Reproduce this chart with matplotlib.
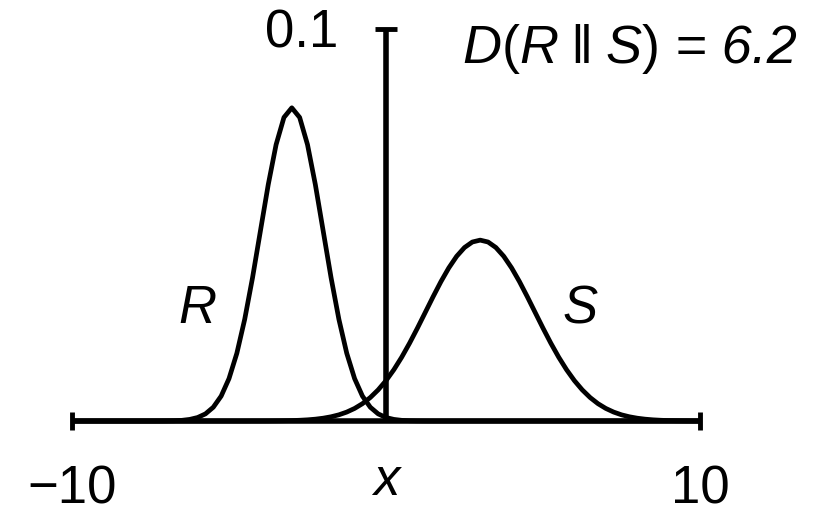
import matplotlib
matplotlib.use("Agg")
import matplotlib.pyplot as plt

plt.rcParams["font.family"] = ["Liberation Sans", "DejaVu Sans"]
plt.rcParams["mathtext.fontset"] = "custom"
plt.rcParams["mathtext.rm"] = "Liberation Sans"
plt.rcParams["mathtext.it"] = "Liberation Sans:italic"

x = [-10 + 0.25 * i for i in range(81)]

# density of R (peak near x = -3)
r_vals = [0.0] * 11 + [
    0.00001, 0.00003, 0.00007, 0.00017, 0.00041, 0.00089, 0.00182, 0.00352,
    0.00636, 0.01083, 0.01730, 0.02597, 0.03663, 0.04852, 0.06039, 0.07060,
    0.07754, 0.08000, 0.07754, 0.07060, 0.06039, 0.04852, 0.03663, 0.02597,
    0.01730, 0.01083, 0.00636, 0.00352, 0.00182, 0.00089, 0.00041, 0.00017,
    0.00007, 0.00003, 0.00001,
] + [0.0] * 35

# density of S (peak near x = 3, wider)
s_vals = [0.0] * 23 + [
    0.00001, 0.00001, 0.00002, 0.00004, 0.00007, 0.00011, 0.00019, 0.00030,
    0.00047, 0.00072, 0.00108, 0.00158, 0.00228, 0.00321, 0.00443, 0.00600,
    0.00795, 0.01031, 0.01310, 0.01630, 0.01987, 0.02372, 0.02773, 0.03175,
    0.03561, 0.03911, 0.04207, 0.04431, 0.04572, 0.04620, 0.04572, 0.04431,
    0.04207, 0.03911, 0.03561, 0.03175, 0.02773, 0.02372, 0.01987, 0.01630,
    0.01310, 0.01031, 0.00795, 0.00600, 0.00443, 0.00321, 0.00228, 0.00158,
    0.00108, 0.00072, 0.00047, 0.00030, 0.00019, 0.00011, 0.00007, 0.00004,
    0.00002, 0.00001,
]

x_ticks = [-10, 10]
x_tick_labels = ["\u221210", "10"]
y_tick = 0.1
kl_lhs = r"$D(R\;\Vert\;S)$"
kl_rhs = "= 6.2"

fig = plt.figure(figsize=(8.2, 5.11), dpi=100)
ax = fig.add_axes([72 / 820, 90 / 511, 628 / 820, 391.5 / 511])
ax.set_xlim(-10, 10)
ax.set_ylim(0, 0.1)

ax.plot(x, r_vals, color="black", lw=3.4, clip_on=False, solid_capstyle="butt")
ax.plot(x, s_vals, color="black", lw=3.4, clip_on=False, solid_capstyle="butt")

for side in ["top", "right"]:
    ax.spines[side].set_visible(False)
ax.spines["left"].set_position(("data", 0))
ax.spines["bottom"].set_position(("data", 0))
ax.spines["left"].set_linewidth(4)
ax.spines["bottom"].set_linewidth(4)
ax.spines["left"].set_capstyle("butt")
ax.spines["bottom"].set_capstyle("butt")

ax.set_xticks(x_ticks)
ax.set_yticks([y_tick])
ax.tick_params(axis="x", direction="inout", length=13, width=3.5, labelbottom=False)
ax.tick_params(axis="y", direction="inout", length=16, width=3.5, labelleft=False)

fs = 38
ax.text(x_ticks[0], -0.021, x_tick_labels[0], ha="center", va="baseline", fontsize=fs)
ax.text(x_ticks[1], -0.021, x_tick_labels[1], ha="center", va="baseline", fontsize=fs)
ax.text(-1.53, 0.0953, "0.1", ha="right", va="baseline", fontsize=fs)
ax.text(0, -0.0189, "x", ha="center", va="baseline", fontsize=fs, style="italic")
ax.text(-5.99, 0.025, "R", ha="center", va="baseline", fontsize=fs, style="italic")
ax.text(6.18, 0.025, "S", ha="center", va="baseline", fontsize=fs, style="italic")
ax.text(2.42, 0.0914, kl_lhs, ha="left", va="baseline", fontsize=39)
ax.text(9.2, 0.0914, kl_rhs, ha="left", va="baseline", fontsize=39, style="italic")

fig.savefig("out.png", dpi=100)
